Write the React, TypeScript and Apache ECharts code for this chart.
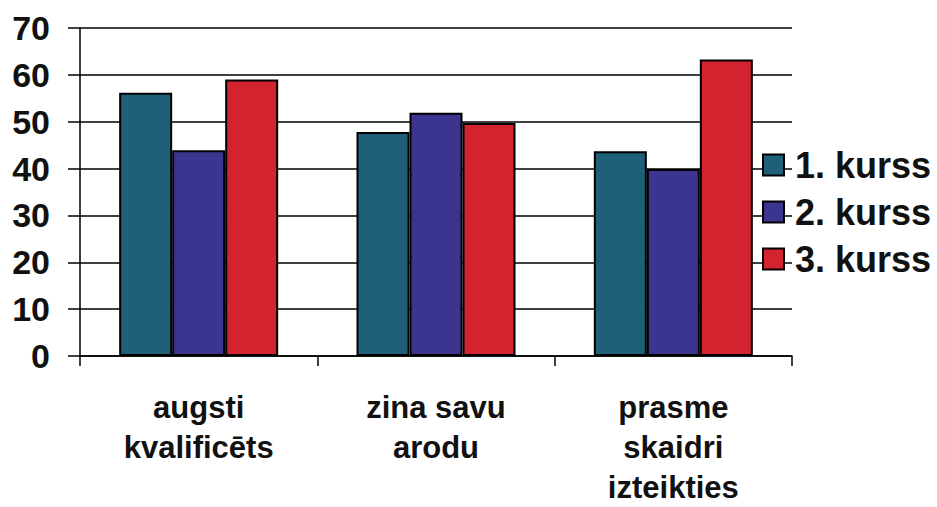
import React, { useEffect, useRef } from "react";
import * as echarts from "echarts";

const categories = ["augsti\nkvalificēts", "zina savu\narodu", "prasme\nskaidri\nizteikties"];
const seriesNames = ["1. kurss", "2. kurss", "3. kurss"];
const kurss1 = [56.2, 47.8, 43.7];
const kurss2 = [43.9, 51.9, 39.9];
const kurss3 = [59.0, 49.7, 63.3];
const colors = ["#1f6078", "#3b3590", "#d2232e"];
const yTicks = { min: 0, max: 70, interval: 10 };

export default function App() {
  const ref = useRef<HTMLDivElement>(null);
  useEffect(() => {
    if (!ref.current) return;
    const chart = echarts.init(ref.current, null, { renderer: "svg" });
    const values = [kurss1, kurss2, kurss3];
    const font = "'Liberation Sans', Arial, sans-serif";
    chart.setOption({
      animation: false,
      backgroundColor: "#ffffff",
      grid: { left: 80, right: 145, top: 28, bottom: 143 },
      legend: {
        orient: "vertical",
        left: 762,
        top: 145,
        padding: 0,
        itemWidth: 21,
        itemHeight: 21,
        itemGap: 7,
        icon: "rect",
        itemStyle: { borderColor: "#000", borderWidth: 2 },
        textStyle: {
          fontFamily: font,
          fontWeight: "bold",
          fontSize: 36,
          lineHeight: 40,
          color: "#111",
          padding: [0, 0, 0, 6],
        },
        data: seriesNames,
      },
      xAxis: {
        type: "category",
        data: categories,
        boundaryGap: true,
        axisLine: { lineStyle: { color: "#000", width: 1.5 } },
        axisTick: { show: true, length: 10, lineStyle: { color: "#000", width: 1.5 } },
        axisLabel: {
          margin: 31,
          fontFamily: font,
          fontWeight: "bold",
          fontSize: 31,
          lineHeight: 40,
          color: "#111",
          interval: 0,
        },
      },
      yAxis: {
        type: "value",
        min: yTicks.min,
        max: yTicks.max,
        interval: yTicks.interval,
        axisLine: { show: true, lineStyle: { color: "#000", width: 1.5 } },
        axisTick: { show: true, length: 12, lineStyle: { color: "#000", width: 1.5 } },
        splitLine: { show: true, lineStyle: { color: "#000", width: 1.5 } },
        axisLabel: {
          margin: 30,
          fontFamily: font,
          fontWeight: "bold",
          fontSize: 34,
          color: "#111",
        },
      },
      series: seriesNames.map((name, i) => ({
        name,
        type: "bar",
        data: values[i],
        barGap: "0%",
        barCategoryGap: "33%",
        itemStyle: { color: colors[i], borderColor: "#000", borderWidth: 2 },
      })),
    });
    return () => chart.dispose();
  }, []);
  return (
    <div
      ref={ref}
      style={{ position: "absolute", left: 0, top: 0, width: 937, height: 507 }}
    />
  );
}
